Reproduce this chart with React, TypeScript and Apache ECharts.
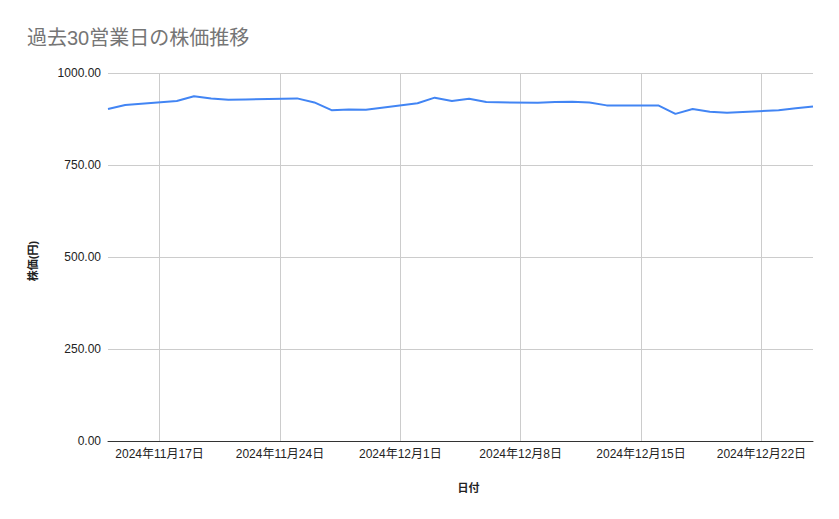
import React, { useEffect, useRef } from "react";
import * as echarts from "echarts";

const TITLE = "過去30営業日の株価推移";
const X_NAME = "日付";
const Y_NAME = "株価(円)";

const dates: string[] = [
  "2024-11-14", "2024-11-15", "2024-11-18", "2024-11-19", "2024-11-20",
  "2024-11-21", "2024-11-22", "2024-11-25", "2024-11-26", "2024-11-27",
  "2024-11-28", "2024-11-29", "2024-12-02", "2024-12-03", "2024-12-04",
  "2024-12-05", "2024-12-06", "2024-12-09", "2024-12-10", "2024-12-11",
  "2024-12-12", "2024-12-13", "2024-12-16", "2024-12-17", "2024-12-18",
  "2024-12-19", "2024-12-20", "2024-12-23", "2024-12-24", "2024-12-25",
];

const prices: number[] = [
  902, 913, 924, 937, 931,
  927, 928, 931, 920, 899,
  901, 900, 918, 933, 924,
  930, 921, 919, 921, 922,
  920, 912, 912, 889, 902,
  895, 892, 899, 904, 909,
];

const xTickDates: string[] = [
  "2024-11-17", "2024-11-24", "2024-12-01", "2024-12-08", "2024-12-15", "2024-12-22",
];

const xMinDate = "2024-11-14";
const xMaxDate = "2024-12-25";
const yTicks: number[] = [0, 250, 500, 750, 1000];

const DAY = 86400000;
const EPOCH = Date.UTC(2024, 10, 14);
const toDay = (s: string) => {
  const [y, m, d] = s.split("-").map(Number);
  return Math.round((Date.UTC(y, m - 1, d) - EPOCH) / DAY);
};
const dayLabel = (n: number) => {
  const d = new Date(EPOCH + n * DAY);
  return `${d.getUTCFullYear()}年${d.getUTCMonth() + 1}月${d.getUTCDate()}日`;
};

const FONT = "'Liberation Sans', Arial, 'Noto Sans CJK JP', sans-serif";

export default function App() {
  const ref = useRef<HTMLDivElement>(null);

  useEffect(() => {
    if (!ref.current) return;
    const chart = echarts.init(ref.current, undefined, { renderer: "svg" });
    const tickDays = xTickDates.map(toDay);
    chart.setOption({
      animation: false,
      backgroundColor: "#ffffff",
      textStyle: { fontFamily: FONT },
      title: {
        text: TITLE,
        left: 22,
        top: 23,
        textStyle: { fontFamily: FONT, fontSize: 20, fontWeight: "normal", color: "#757575" },
      },
      grid: { left: 108, right: 26, top: 73, bottom: 78, containLabel: false },
      xAxis: {
        type: "value",
        min: toDay(xMinDate),
        max: toDay(xMaxDate),
        name: X_NAME,
        nameLocation: "middle",
        nameGap: 41,
        nameTextStyle: {
          fontFamily: FONT,
          fontSize: 11,
          fontWeight: "bold",
          color: "#222222",
          padding: [0, 0, 0, 16],
        },
        axisLine: { show: true, onZero: false, lineStyle: { color: "#333333", width: 1 } },
        axisTick: { show: false, customValues: tickDays },
        axisLabel: {
          customValues: tickDays,
          margin: 7,
          fontFamily: FONT,
          fontSize: 12,
          color: "#222222",
          formatter: (v: number) => dayLabel(v),
        },
        splitLine: { show: true, lineStyle: { color: "#cccccc", width: 1 } },
      },
      yAxis: {
        type: "value",
        min: yTicks[0],
        max: yTicks[yTicks.length - 1],
        interval: yTicks[1] - yTicks[0],
        name: Y_NAME,
        nameLocation: "middle",
        nameGap: 70,
        nameTextStyle: {
          fontFamily: FONT,
          fontSize: 11,
          fontWeight: "bold",
          color: "#222222",
          padding: [0, 8, 0, 0],
        },
        axisLine: { show: false },
        axisTick: { show: false },
        axisLabel: {
          margin: 7,
          fontFamily: FONT,
          fontSize: 12,
          color: "#222222",
          formatter: (v: number) => v.toFixed(2),
        },
        splitLine: { show: true, lineStyle: { color: "#cccccc", width: 1 } },
      },
      series: [
        {
          type: "line",
          data: dates.map((d, i) => [toDay(d), prices[i]]),
          showSymbol: false,
          symbol: "none",
          lineStyle: { color: "#4285f4", width: 2 },
          itemStyle: { color: "#4285f4" },
        },
      ],
    });
    return () => chart.dispose();
  }, []);

  return (
    <div
      ref={ref}
      style={{ position: "fixed", left: 0, top: 0, width: 839, height: 519, background: "#fff" }}
    />
  );
}
